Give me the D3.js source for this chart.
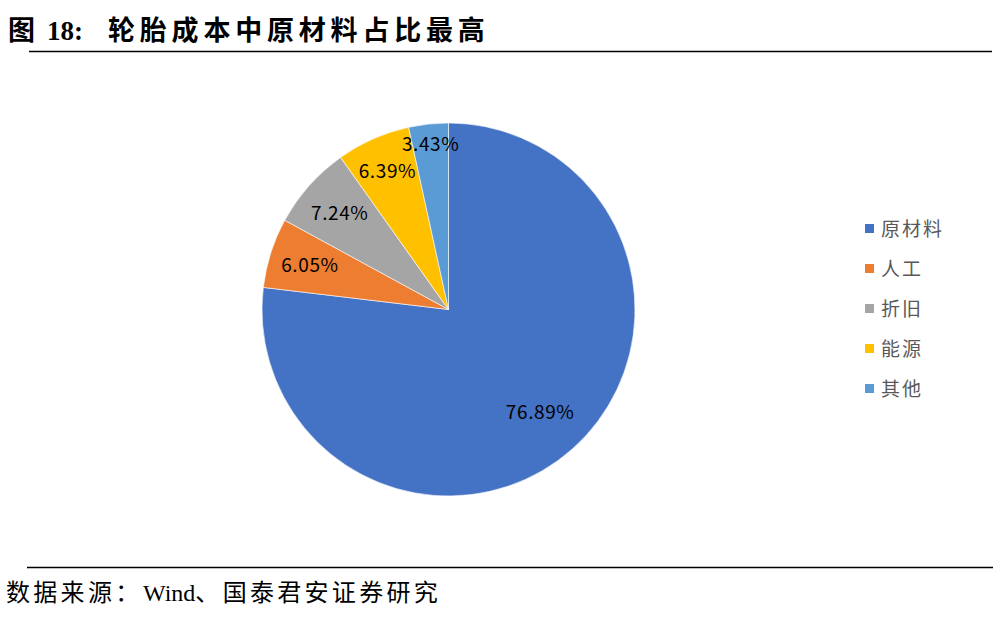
<!DOCTYPE html>
<meta charset="utf-8">
<title>轮胎成本构成</title>
<style>
body {
  margin: 0px;
  background: #fff;
}
svg {
  display: block;
}
.title {
  font-family: "Liberation Serif", "Times New Roman", "Noto Sans CJK SC", serif;
  font-weight: bold;
  font-size: 27px;
}
.source {
  font-family: "Liberation Serif", "Times New Roman", "Noto Sans CJK SC", serif;
  font-size: 24px;
}
.cjk {
  letter-spacing: 4.8px;
}
.source .cjk {
  letter-spacing: 3.3px;
}
.label {
  font-family: "Noto Sans CJK SC", "Noto Sans", sans-serif;
  font-size: 19px;
  letter-spacing: 0.6px;
  fill: #000;
}
.legend text {
  font-family: "Noto Sans CJK SC", sans-serif;
  font-size: 19px;
  fill: #595959;
  letter-spacing: 2px;
}
</style>

<script src="https://d3js.org/d3.v7.min.js"></script>

<body>
<script>

var width = 1000, height = 620;

// data
var categories = ["原材料", "人工", "折旧", "能源", "其他"];
var shares = [76.89, 6.05, 7.24, 6.39, 3.43];
var colors = ["#4472C4", "#ED7D31", "#A5A5A5", "#FFC000", "#5B9BD5"];
// label distance from the centre as a share of the radius (Excel "best fit")
var labelPos = [0.74, 0.78, 0.78, 0.81, 0.89];

var svg = d3.select("body").append("svg")
    .attr("width", width)
    .attr("height", height);

// Title and rules
var title = svg.append("text")
    .attr("class", "title")
    .attr("y", 40);
title.append("tspan").attr("x", 8).text("图");
title.append("tspan").attr("x", 47).text("18:");
title.append("tspan").attr("class", "cjk").attr("x", 108).text("轮胎成本中原材料占比最高");

svg.append("line")
    .attr("x1", 29).attr("x2", 992)
    .attr("y1", 51.5).attr("y2", 51.5)
    .attr("stroke", "#000")
    .attr("stroke-width", 1.5);

svg.append("line")
    .attr("x1", 27).attr("x2", 993)
    .attr("y1", 567.5).attr("y2", 567.5)
    .attr("stroke", "#000")
    .attr("stroke-width", 1.5);

var source = svg.append("text")
    .attr("class", "source")
    .attr("y", 601);
source.append("tspan").attr("class", "cjk").attr("x", 6).text("数据来源：");
source.append("tspan").attr("x", 143).text("Wind");
source.append("tspan").attr("class", "cjk").text("、国泰君安证券研究");

// Pie
var cx = 448.5, cy = 309.5, radius = 186.5;

var pie = d3.pie()
    .sort(null)
    .value(function(d) { return d; });

var arc = d3.arc()
    .innerRadius(0)
    .outerRadius(radius);

var arcs = pie(shares);

var g = svg.append("g")
    .attr("transform", "translate(" + [cx, cy] + ")");

g.selectAll("path")
    .data(arcs)
  .enter().append("path")
    .attr("d", arc)
    .attr("fill", function(d, i) { return colors[i]; })
    .attr("stroke", "#fff")
    .attr("stroke-width", 0.6);

g.selectAll("text.label")
    .data(arcs)
  .enter().append("text")
    .attr("class", "label")
    .attr("transform", function(d, i) {
      var r = radius * labelPos[i];
      var a = (d.startAngle + d.endAngle) / 2;
      return "translate(" + [r * Math.sin(a), -r * Math.cos(a)] + ")";
    })
    .attr("text-anchor", "middle")
    .attr("dy", "0.35em")
    .text(function(d) { return d.value.toFixed(2) + "%"; });

// Legend
var legend = svg.selectAll(".legend")
    .data(categories)
  .enter().append("g")
    .attr("class", "legend")
    .attr("transform", function(d, i) { return "translate(" + [865, 229 + i * 40] + ")"; });

legend.append("rect")
    .attr("x", 0)
    .attr("y", -5)
    .attr("width", 9)
    .attr("height", 9)
    .attr("fill", function(d, i) { return colors[i]; });

legend.append("text")
    .attr("x", 16)
    .attr("dy", "0.35em")
    .text(function(d) { return d; });

</script>
